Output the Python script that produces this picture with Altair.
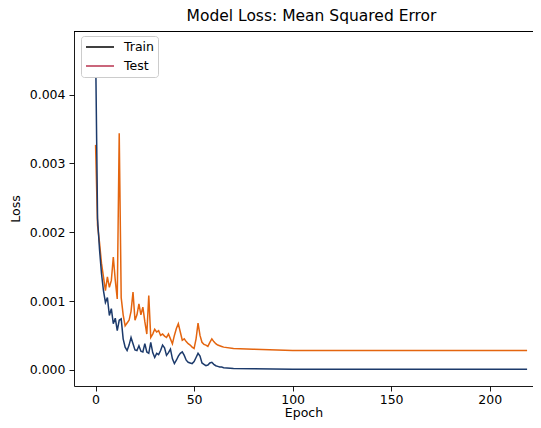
import altair as alt
import pandas as pd

# ---- data ----
epochs = list(range(0, 66)) + [70, 80, 100, 150, 219]

train_loss = [
    0.00470, 0.00220, 0.00175, 0.00140, 0.00115, 0.00098, 0.00105, 0.00079, 0.00089, 0.00067,
    0.00075, 0.00057, 0.00072, 0.00074, 0.00045, 0.00033, 0.00028, 0.00036, 0.00047, 0.00038,
    0.00029, 0.00028, 0.00035, 0.00027, 0.00026, 0.00038, 0.00026, 0.00024, 0.00040, 0.00025,
    0.00018, 0.00024, 0.00022, 0.00028, 0.00036, 0.00032, 0.00021, 0.00025, 0.00030, 0.00016,
    0.00009, 0.00014, 0.00020, 0.00024, 0.00026, 0.00021, 0.00014, 0.00011, 0.00010, 0.00009,
    0.00012, 0.00018, 0.00024, 0.00020, 0.00010, 0.00008, 0.00006, 0.00007, 0.00010, 0.00011,
    0.00008, 0.00006, 0.00005, 0.00004, 0.00004, 0.00003,
    0.00002, 0.000015, 0.00001, 0.00001, 0.00001,
]

test_loss = [
    0.00327, 0.00210, 0.00185, 0.00155, 0.00135, 0.00115, 0.00135, 0.00120, 0.00130, 0.00164,
    0.00130, 0.00103, 0.00344, 0.00105, 0.00080, 0.00064, 0.00068, 0.00072, 0.00085, 0.00113,
    0.00072, 0.00080, 0.00096, 0.00080, 0.00091, 0.00070, 0.00052, 0.00108, 0.00047, 0.00052,
    0.00059, 0.00055, 0.00057, 0.00050, 0.00052, 0.00049, 0.00047, 0.00052, 0.00045, 0.00038,
    0.00050, 0.00060, 0.00067, 0.00055, 0.00043, 0.00045, 0.00041, 0.00038, 0.00036, 0.00033,
    0.00031, 0.00045, 0.00068, 0.00050, 0.00040, 0.00037, 0.00036, 0.00034, 0.00040, 0.00045,
    0.00041, 0.00038, 0.00036, 0.00035, 0.00034, 0.00033,
    0.00031, 0.00030, 0.00028, 0.00028, 0.00028,
]

series_names = ["Train", "Test"]
line_colors = ["#1c3a6b", "#e4650f"]
legend_colors = ["#000000", "#b8334f"]
x_ticks = [0, 50, 100, 150, 200]
y_ticks = [0.000, 0.001, 0.002, 0.003, 0.004]

df = pd.concat([
    pd.DataFrame({"Epoch": epochs, "Loss": train_loss, "Series": "Train"}),
    pd.DataFrame({"Epoch": epochs, "Loss": test_loss, "Series": "Test"}),
])

FONT = "DejaVu Sans"

x_enc = alt.X("Epoch:Q",
              scale=alt.Scale(domain=[-10.95, 222.0], nice=False, zero=False),
              axis=alt.Axis(values=x_ticks, title="Epoch", format="d", grid=False,
                            tickSize=5, labelPadding=2, titlePadding=1))
y_enc = alt.Y("Loss:Q",
              scale=alt.Scale(domain=[-0.000235, 0.004925], nice=False, zero=False),
              axis=alt.Axis(values=y_ticks, title="Loss", format=".3f", grid=False,
                            tickSize=5, labelPadding=4, titlePadding=7))

base = alt.Chart(df)

train_line = base.transform_filter(alt.datum.Series == "Train").mark_line(
    strokeWidth=1.5, color=line_colors[0]).encode(x=x_enc, y=y_enc)

test_line = base.transform_filter(alt.datum.Series == "Test").mark_line(
    strokeWidth=1.5, color=line_colors[1]).encode(x=x_enc, y=y_enc)

# legend only (no marks drawn): matplotlib-style legend box with its own colours
legend_layer = base.transform_filter("datum.Epoch < -100").mark_line().encode(
    x="Epoch:Q",
    y="Loss:Q",
    stroke=alt.Stroke("Series:N",
                      scale=alt.Scale(domain=series_names, range=legend_colors),
                      legend=alt.Legend(title=None, orient="none", legendX=7, legendY=5,
                                        symbolType="stroke", symbolSize=784,
                                        symbolStrokeWidth=1.5, clipHeight=14,
                                        labelFontSize=12.5, labelFont=FONT, labelColor="#000000",
                                        labelOffset=9, rowPadding=5, padding=4,
                                        fillColor="#ffffff", strokeColor="#cccccc",
                                        cornerRadius=3)),
)

top_line = base.mark_rule(color="#000000", strokeWidth=0.9).encode(y=alt.value(0.5))

chart = alt.layer(test_line, train_line, legend_layer, top_line).properties(
    width=459,
    height=355,
    background="#ffffff",
    title=alt.Title("Model Loss: Mean Squared Error", fontSize=15.5, font=FONT,
                    fontWeight="normal", color="#000000", offset=7, dx=8),
    autosize=alt.AutoSizeParams(type="none"),
    padding={"left": 66, "top": 23, "right": 0, "bottom": 34},
).configure_view(stroke=None).configure_axis(
    labelFont=FONT, titleFont=FONT, labelFontSize=12.5, titleFontSize=12.5,
    titleFontWeight="normal", labelColor="#000000", titleColor="#000000",
    domainColor="#000000", tickColor="#000000", domainWidth=0.9, tickWidth=0.9,
)

chart.save("out.html", embed_options={"renderer": "svg", "actions": False})
